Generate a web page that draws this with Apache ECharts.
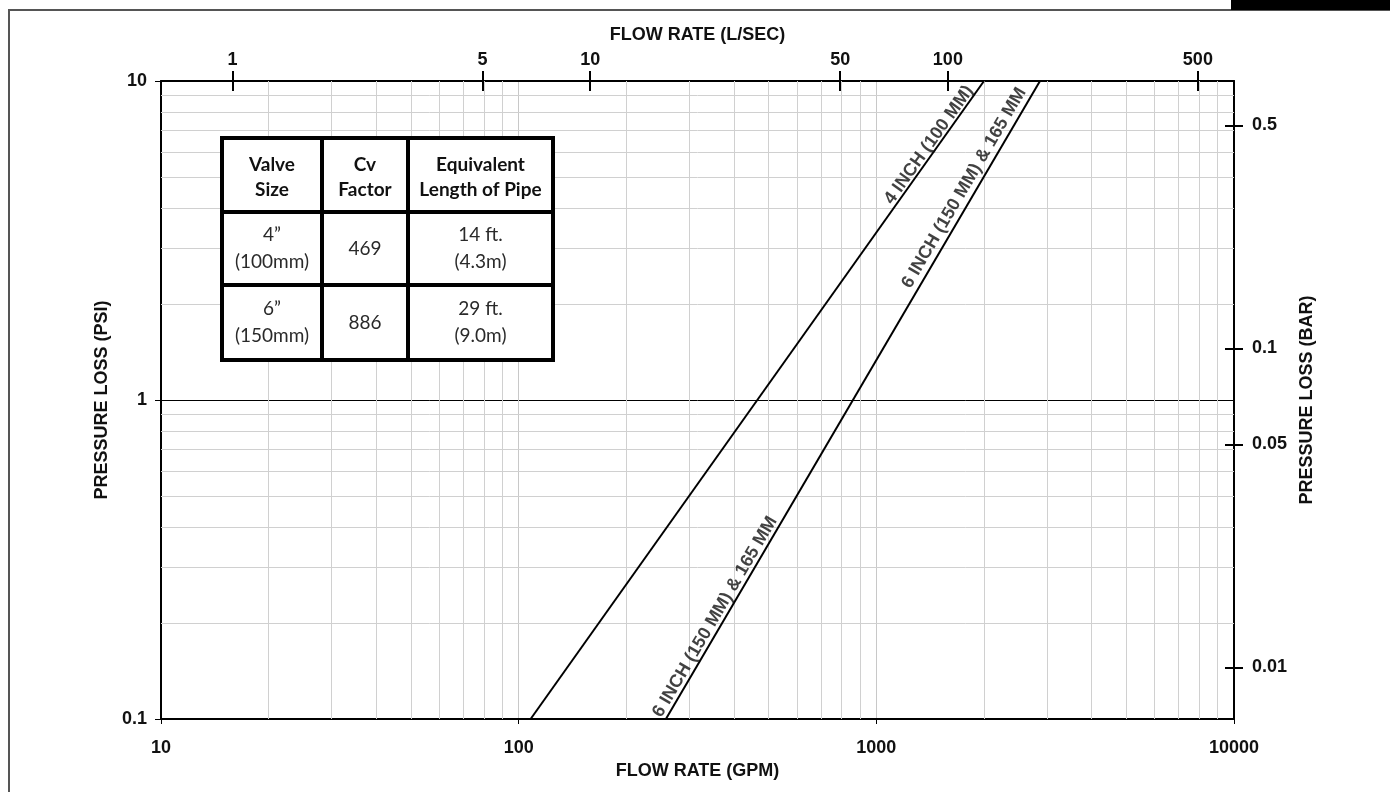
<!DOCTYPE html>
<html>
<head>
<meta charset="utf-8">
<script src="https://cdn.jsdelivr.net/npm/echarts@6/dist/echarts.min.js"></script>
<style>
html,body{margin:0;padding:0;background:#fff;}
#chart{width:1390px;height:792px;}
</style>
</head>
<body>
<div id="chart"></div>
<script>
// ---- data ----
const GPM_PER_LPS = 15.850323;
const BAR_PER_PSI = 0.0689476;
const gpmRange = [10, 10000];
const psiRange = [0.1, 10];
const line4Gpm = [108, 2000];
const line4Psi = [0.1, 10];
const line6Gpm = [258, 2868];
const line6Psi = [0.1, 10];
const lpsTicks = [1, 5, 10, 50, 100, 500];
const barTicks = [0.5, 0.1, 0.05, 0.01];
const gpmMinor = [20,30,40,50,60,70,80,90,200,300,400,500,600,700,800,900,2000,3000,4000,5000,6000,7000,8000,9000];
const psiMinor = [0.2,0.3,0.4,0.5,0.6,0.7,0.8,0.9,2,3,4,5,6,7,8,9];
const lineLabels = ['4 INCH (100 MM)', '6 INCH (150 MM) & 165 MM', '6 INCH (150 MM) & 165 MM'];
const lineLabelGpm = [1403, 1759, 354];
const lineLabelPsi = [6.30, 4.62, 0.209];
const lineLabelAngle = [54.6, 59.6, 59.6];
const tableHeader = ['Valve\nSize', 'Cv\nFactor', 'Equivalent\nLength of Pipe'];
const tableRow1 = ['4\u201D\n(100mm)', '469', '14 ft.\n(4.3m)'];
const tableRow2 = ['6\u201D\n(150mm)', '886', '29 ft.\n(9.0m)'];

const AX_FONT = 'Liberation Sans';
const labelStyle = {fontFamily: AX_FONT, fontWeight: 'bold', fontSize: 18, color: '#111'};
const nameStyle = {fontFamily: AX_FONT, fontWeight: 'bold', fontSize: 18, color: '#111'};
const blackLine = {color: '#000', width: 2};
const plainNum = v => String(Math.round(v * 1000) / 1000);

const chart = echarts.init(document.getElementById('chart'), null, {renderer: 'canvas'});

// table graphic
const tX = [222, 322, 408, 553];
const tY = [138, 212, 285, 360];
const tableEls = [];
tableEls.push({type: 'rect', shape: {x: tX[0], y: tY[0], width: tX[3]-tX[0], height: tY[3]-tY[0]},
  style: {fill: '#fff', stroke: '#000', lineWidth: 4}, z: 100});
[tX[1], tX[2]].forEach(x => tableEls.push({type: 'line', shape: {x1: x, y1: tY[0], x2: x, y2: tY[3]}, style: {stroke: '#000', lineWidth: 4}, z: 101}));
[tY[1], tY[2]].forEach(y => tableEls.push({type: 'line', shape: {x1: tX[0], y1: y, x2: tX[3], y2: y}, style: {stroke: '#000', lineWidth: 4}, z: 101}));
[tableHeader, tableRow1, tableRow2].forEach((row, r) => {
  row.forEach((txt, c) => {
    tableEls.push({type: 'text', x: (tX[c]+tX[c+1])/2, y: (tY[r]+tY[r+1])/2 + (r === 0 ? 2 : 0), z: 102,
      style: {text: txt, fontFamily: 'Lato', fontSize: 19, fontWeight: r === 0 ? 'bold' : 'normal',
        align: 'center', verticalAlign: 'middle', lineHeight: r === 0 ? 25 : 27, fill: r === 0 ? '#111' : '#2a2a2a'}});
  });
});

const option = {
  animation: false,
  grid: {left: 161, right: 156, top: 81, bottom: 73, containLabel: false},
  xAxis: [
    {type: 'log', logBase: 10, min: gpmRange[0], max: gpmRange[1], position: 'bottom',
     axisLine: {show: true, lineStyle: blackLine},
     axisTick: {show: true, length: 5, lineStyle: {color: '#000', width: 1}},
     axisLabel: Object.assign({margin: 20, formatter: plainNum}, labelStyle),
     splitLine: {show: true, lineStyle: {color: '#c8c8c8', width: 1}},
     name: 'FLOW RATE (GPM)', nameLocation: 'middle', nameGap: 43, nameTextStyle: nameStyle},
    {type: 'log', logBase: 10, min: gpmRange[0]/GPM_PER_LPS, max: gpmRange[1]/GPM_PER_LPS, position: 'top',
     axisLine: {show: true, lineStyle: blackLine},
     axisTick: {show: true, length: 10, customValues: lpsTicks, lineStyle: {color: '#000', width: 2}},
     axisLabel: Object.assign({margin: 12, customValues: lpsTicks, formatter: plainNum}, labelStyle),
     splitLine: {show: false},
     name: 'FLOW RATE (L/SEC)', nameLocation: 'middle', nameGap: 37, nameTextStyle: nameStyle},
    {type: 'log', logBase: 10, min: gpmRange[0]/GPM_PER_LPS, max: gpmRange[1]/GPM_PER_LPS, position: 'top',
     axisLine: {show: false},
     axisTick: {show: true, inside: true, length: 10, customValues: lpsTicks, lineStyle: {color: '#000', width: 2}},
     axisLabel: {show: false}, splitLine: {show: false}}
  ],
  yAxis: [
    {type: 'log', logBase: 10, min: psiRange[0], max: psiRange[1], position: 'left',
     axisLine: {show: true, lineStyle: blackLine},
     axisTick: {show: true, length: 6, lineStyle: {color: '#000', width: 1}},
     axisLabel: Object.assign({margin: 14, formatter: plainNum}, labelStyle),
     splitLine: {show: true, lineStyle: {color: '#000', width: 1}},
     name: 'PRESSURE LOSS (PSI)', nameLocation: 'middle', nameGap: 48, nameRotate: 90, nameTextStyle: nameStyle},
    {type: 'log', logBase: 10, min: psiRange[0]*BAR_PER_PSI, max: psiRange[1]*BAR_PER_PSI, position: 'right',
     axisLine: {show: true, lineStyle: blackLine},
     axisTick: {show: true, length: 9, customValues: barTicks, lineStyle: {color: '#000', width: 2}},
     axisLabel: Object.assign({margin: 18, customValues: barTicks, formatter: plainNum}, labelStyle),
     splitLine: {show: false},
     name: 'PRESSURE LOSS (BAR)', nameLocation: 'middle', nameGap: 62, nameRotate: 90, nameTextStyle: nameStyle},
    {type: 'log', logBase: 10, min: psiRange[0]*BAR_PER_PSI, max: psiRange[1]*BAR_PER_PSI, position: 'right',
     axisLine: {show: false},
     axisTick: {show: true, inside: true, length: 9, customValues: barTicks, lineStyle: {color: '#000', width: 2}},
     axisLabel: {show: false}, splitLine: {show: false}}
  ],
  graphic: [
    {type: 'rect', shape: {x: 9, y: 10, width: 1400, height: 800}, style: {fill: null, stroke: '#555', lineWidth: 2}, z: 1},
    {type: 'rect', shape: {x: 1231, y: 0, width: 160, height: 10}, style: {fill: '#000'}, z: 2}
  ].concat(tableEls),
  series: [
    {type: 'line', data: [], xAxisIndex: 0, yAxisIndex: 0, silent: true, z: 1,
     markLine: {silent: true, symbol: 'none', animation: false, label: {show: false},
       lineStyle: {color: '#d0d0d0', width: 1, type: 'solid'},
       data: gpmMinor.map(v => ({xAxis: v})).concat(psiMinor.map(v => ({yAxis: v})))}},
    {type: 'line', data: line4Gpm.map((g, i) => [g, line4Psi[i]]), xAxisIndex: 0, yAxisIndex: 0,
     symbol: 'none', lineStyle: {color: '#000', width: 2}, z: 5},
    {type: 'line', data: line6Gpm.map((g, i) => [g, line6Psi[i]]), xAxisIndex: 0, yAxisIndex: 0,
     symbol: 'none', lineStyle: {color: '#000', width: 2}, z: 5},
    {type: 'scatter', xAxisIndex: 0, yAxisIndex: 0, symbolSize: 0, z: 6, silent: true,
     data: lineLabels.map((t, i) => ({value: [lineLabelGpm[i], lineLabelPsi[i]], name: t,
       label: {show: true, position: 'inside', formatter: t, rotate: lineLabelAngle[i],
         fontFamily: AX_FONT, fontWeight: 'bold', fontSize: 18, color: '#111'}}))}
  ]
};
chart.setOption(option);
</script>
</body>
</html>
